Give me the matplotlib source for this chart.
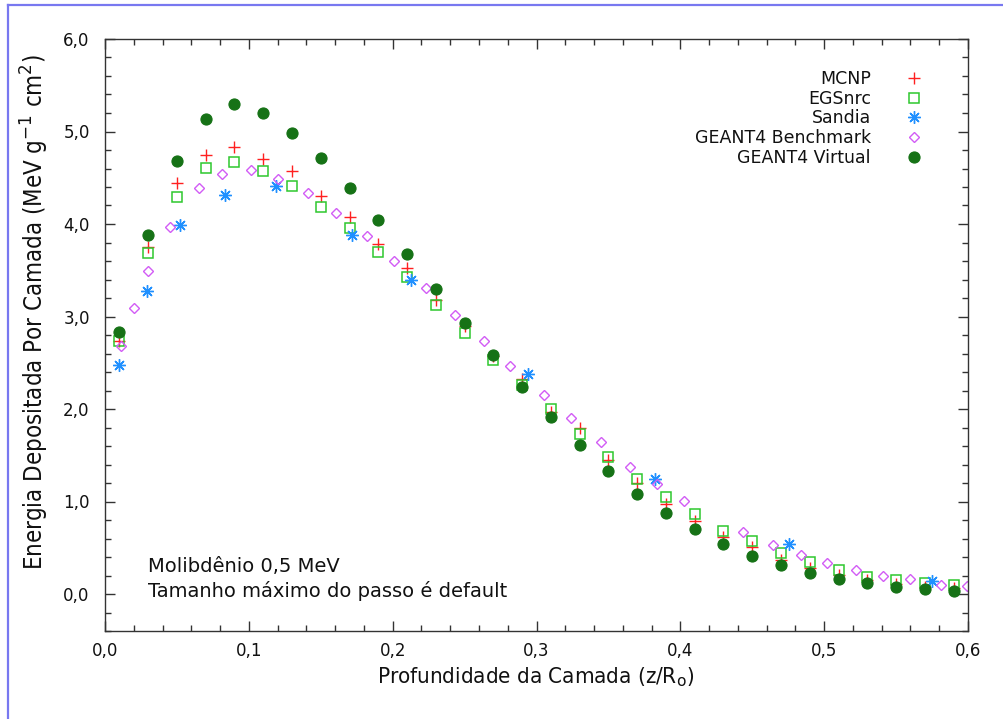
import matplotlib
matplotlib.use("Agg")
import matplotlib.pyplot as plt
from matplotlib.lines import Line2D
from matplotlib.ticker import MultipleLocator, FuncFormatter

# Layer depths (z/R0) for the uniformly binned codes
depth = [0.01, 0.03, 0.05, 0.07, 0.09, 0.11, 0.13, 0.15, 0.17, 0.19,
         0.21, 0.23, 0.25, 0.27, 0.29, 0.31, 0.33, 0.35, 0.37, 0.39,
         0.41, 0.43, 0.45, 0.47, 0.49, 0.51, 0.53, 0.55, 0.57, 0.59]

mcnp = [2.735, 3.755, 4.440, 4.742, 4.832, 4.699, 4.569, 4.299, 4.076, 3.787,
        3.528, 3.178, 2.900, 2.570, 2.321, 1.970, 1.795, 1.450, 1.204, 0.973,
        0.789, 0.616, 0.505, 0.370, 0.284, 0.210, 0.150, 0.110, 0.080, 0.060]

egsnrc = [2.739, 3.686, 4.292, 4.602, 4.667, 4.577, 4.407, 4.184, 3.960, 3.694,
          3.427, 3.124, 2.822, 2.530, 2.256, 2.000, 1.730, 1.476, 1.247, 1.045,
          0.865, 0.677, 0.569, 0.443, 0.346, 0.256, 0.187, 0.148, 0.116, 0.094]

g4_virtual = [2.829, 3.878, 4.678, 5.135, 5.294, 5.200, 4.987, 4.710, 4.392, 4.043,
              3.679, 3.301, 2.926, 2.580, 2.238, 1.910, 1.611, 1.335, 1.085, 0.879,
              0.703, 0.544, 0.407, 0.314, 0.224, 0.159, 0.116, 0.079, 0.051, 0.036]

# Sandia experimental points
sandia_x = [0.0097, 0.0290, 0.0521, 0.0834, 0.1187, 0.1717, 0.2125, 0.2941,
            0.3824, 0.4756, 0.5752]
sandia_y = [2.476, 3.272, 3.989, 4.310, 4.411, 3.878, 3.391, 2.378,
            1.243, 0.537, 0.144]

# GEANT4 benchmark (non-uniform layers)
bench_x = [0.0109, 0.0202, 0.0301, 0.0454, 0.0656, 0.0816, 0.1017, 0.1205,
           0.1411, 0.1606, 0.1820, 0.2011, 0.2232, 0.2431, 0.2633, 0.2816,
           0.3054, 0.3238, 0.3445, 0.3652, 0.3838, 0.4028, 0.4434, 0.4646,
           0.4839, 0.5022, 0.5219, 0.5411, 0.5597, 0.5815, 0.5991]
bench_y = [2.684, 3.092, 3.492, 3.964, 4.392, 4.541, 4.581, 4.490,
           4.338, 4.122, 3.865, 3.605, 3.303, 3.016, 2.735, 2.468,
           2.148, 1.906, 1.638, 1.378, 1.190, 1.009, 0.670, 0.533,
           0.418, 0.338, 0.259, 0.198, 0.159, 0.097, 0.086]

labels = ["MCNP", "EGSnrc", "Sandia", "GEANT4 Benchmark", "GEANT4 Virtual"]

W, H = 1004, 719
fig = plt.figure(figsize=(W / 100, H / 100), dpi=100)
fig.patch.set_facecolor("white")

ax = fig.add_axes([105 / W, 1 - 631 / H, (968 - 105) / W, (631 - 39) / H])

ax.plot(depth, mcnp, ls="none", marker="+", ms=8, mew=1.0, color="#ff2020",
        label=labels[0])
ax.plot(depth, egsnrc, ls="none", marker="s", ms=7, mew=1.1, mfc="none",
        mec="#2ec82e", label=labels[1])
ax.plot(sandia_x, sandia_y, ls="none", marker=(8, 2, 0), ms=9, mew=1.0,
        color="#2090ff", label=labels[2])
ax.plot(bench_x, bench_y, ls="none", marker="D", ms=5.5, mew=1.0, mfc="none",
        mec="#d25cf5", label=labels[3])
ax.plot(depth, g4_virtual, ls="none", marker="o", ms=8, mew=0.8,
        color="#167216", label=labels[4])

ax.set_xlim(0.0, 0.6)
ax.set_ylim(-0.4, 6.0)
ax.xaxis.set_major_locator(MultipleLocator(0.1))
ax.xaxis.set_minor_locator(MultipleLocator(0.02))
ax.yaxis.set_major_locator(MultipleLocator(1.0))
ax.yaxis.set_minor_locator(MultipleLocator(0.2))
ax.xaxis.set_major_formatter(FuncFormatter(lambda v, p: f"{v:.1f}".replace(".", ",")))
ax.yaxis.set_major_formatter(FuncFormatter(lambda v, p: f"{v:.1f}".replace(".", ",")))

ax.tick_params(which="both", direction="in", top=True, right=True,
               color="#333333", width=1.0, labelsize=12, labelcolor="#111111")
ax.tick_params(which="major", length=7)
ax.tick_params(which="minor", length=4)
ax.tick_params(axis="x", pad=8)
ax.tick_params(axis="y", pad=11)
for sp in ax.spines.values():
    sp.set_color("#333333")
    sp.set_linewidth(1.0)

fig.text(536 / W, 1 - 677 / H, r"Profundidade da Camada (z/R$_\mathrm{o}$)",
         ha="center", va="center", fontsize=16, fontstretch="condensed",
         color="#111111")
fig.text(35 / W, 1 - 312 / H,
         r"Energia Depositada Por Camada (MeV g$^{\mathrm{-1}}$ cm$^{\mathrm{2}}$)",
         ha="center", va="center", rotation=90, fontsize=17.2,
         fontstretch="condensed", color="#111111")

ax.text(148 / W, 1 - 557 / H, "Molibdênio 0,5 MeV\nTamanho máximo do passo é default",
        transform=fig.transFigure, ha="left", va="top", fontsize=14,
        linespacing=1.34, color="#111111")

leg = ax.legend(loc="upper right", bbox_to_anchor=(923 / W, 1 - 70 / H),
                bbox_transform=fig.transFigure, frameon=False, markerfirst=False,
                fontsize=12.5, handlelength=1.0, handletextpad=2.0,
                borderpad=0, borderaxespad=0, labelspacing=0.1)
for t in leg.get_texts():
    t.set_color("#111111")

# Outer frame of the page (top and left edges)
fig.add_artist(Line2D([8 / W, 1.0], [1 - 5 / H, 1 - 5 / H], color="#7878f0",
                      lw=1.6, transform=fig.transFigure))
fig.add_artist(Line2D([8 / W, 8 / W], [0.0, 1 - 5 / H], color="#7878f0",
                      lw=1.6, transform=fig.transFigure))

fig.savefig("out.png", dpi=100)
